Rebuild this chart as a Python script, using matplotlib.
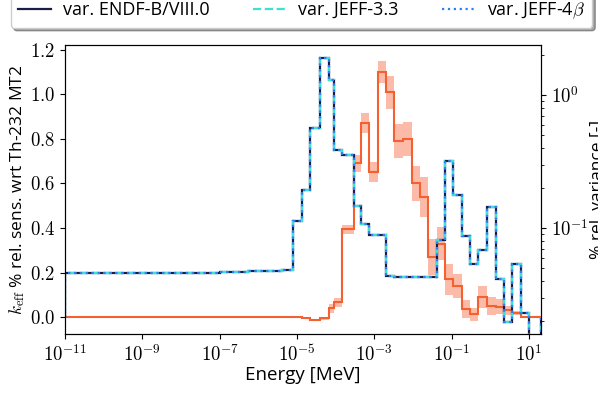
import matplotlib
matplotlib.use("Agg")
import matplotlib.pyplot as plt
import matplotlib.ticker as mticker
import numpy as np

plt.rcParams['font.family'] = ['Open Sans', 'DejaVu Sans']
plt.rcParams['mathtext.fontset'] = 'cm'

# group boundaries [MeV]
edges = [1e-11, 1e-7, 5.4e-7, 4.1e-6, 8e-6, 1.35e-5, 2.2e-5, 3.9e-5, 6.8e-5,
         9.1e-5, 1.45e-4, 2.95e-4, 4.5e-4, 7.2e-4, 1.24e-3, 2.0e-3, 3.24e-3,
         5.5e-3, 9.3e-3, 1.52e-2, 2.46e-2, 4.2e-2, 6.8e-2, 0.107, 0.186, 0.295,
         0.48, 0.81, 1.41, 2.24, 3.6, 6.2, 10.0, 20.0]

# sensitivity profile (same for the three libraries)
sens_endf = [0.198, 0.203, 0.208, 0.212, 0.43, 0.57, 0.85, 1.165, 1.065, 0.75,
             0.73, 0.50, 0.42, 0.37, 0.37, 0.183, 0.182, 0.18, 0.178, 0.178,
             0.18, 0.345, 0.70, 0.55, 0.365, 0.24, 0.30, 0.495, 0.17, -0.02,
             0.24, 0.017, -0.2]
sens_jeff33 = list(sens_endf)
sens_jeff4 = list(sens_endf)

# relative variance and its uncertainty band
variance = [0.0, 0.0, 0.0, 0.0, 0.001, -0.005, -0.013, -0.006, 0.04, 0.067,
            0.395, 0.69, 0.87, 0.65, 1.10, 1.01, 0.79, 0.80, 0.60, 0.54,
            0.27, 0.33, 0.17, 0.14, 0.036, 0.013, 0.09, 0.05, 0.047, 0.03,
            0.018, 0.0, 0.0]
var_err = [0.003, 0.003, 0.003, 0.003, 0.004, 0.005, 0.005, 0.005, 0.02, 0.02,
           0.02, 0.04, 0.045, 0.045, 0.05, 0.075, 0.075, 0.075, 0.08, 0.09,
           0.08, 0.075, 0.07, 0.055, 0.04, 0.03, 0.05, 0.04, 0.035, 0.02,
           0.01, 0.005, 0.005]

edges = np.array(edges)
variance = np.array(variance)
var_err = np.array(var_err)

fig = plt.figure(figsize=(5.98, 3.94), dpi=100)
ax = fig.add_axes([65/598, 1-334/394, 476/598, 289/394])

ax.stairs(variance + var_err, edges, baseline=variance - var_err, fill=True,
          color='#fbbba8', lw=0)
ax.stairs(variance, edges, color='#f4602f', lw=1.5)

l1 = ax.stairs(sens_endf, edges, color='#1c1c4a', lw=1.6, label='var. ENDF-B/VIII.0')
l2 = ax.stairs(sens_jeff33, edges, color='#3fe0d0', lw=1.6, ls='--', label='var. JEFF-3.3')
l3 = ax.stairs(sens_jeff4, edges, color='#2a7fff', lw=1.6, ls=':', label=r'var. JEFF-4$\beta$')

logfmt = mticker.FuncFormatter(lambda v, p: '$10^{%d}$' % round(np.log10(v)))

ax.set_xscale('log')
ax.set_xlim(1e-11, 10**1.31)
ax.set_ylim(-0.076, 1.222)
ax.set_xticks([1e-11, 1e-9, 1e-7, 1e-5, 1e-3, 1e-1, 1e1])
ax.xaxis.set_major_formatter(logfmt)
ax.xaxis.set_minor_locator(mticker.NullLocator())
ax.set_yticks([0.0, 0.2, 0.4, 0.6, 0.8, 1.0, 1.2])
ax.yaxis.set_major_formatter(mticker.FuncFormatter(lambda v, p: f'${v:.1f}$'))
ax.tick_params(labelsize=13.5)
ax.set_xlabel('Energy [MeV]', fontsize=13.5, labelpad=1)
ax.set_ylabel(r'$k_{\rm eff}$ % rel. sens. wrt Th-232 MT2', fontsize=12.5, labelpad=2)

ax2 = ax.twinx()
ax2.set_yscale('log')
ax2.set_ylim(10**-1.797, 10**0.376)
ax2.set_yticks([0.1, 1.0])
ax2.yaxis.set_major_formatter(logfmt)
ax2.yaxis.set_minor_formatter(mticker.NullFormatter())
ax2.tick_params(labelsize=13.5)
ax2.set_ylabel(r'% rel. variance [-]', fontsize=12.5, labelpad=1)

fig.legend(handles=[l1, l2, l3], loc='lower left', ncol=3,
           bbox_to_anchor=(0.003, 1-37/394), fontsize=13,
           fancybox=True, shadow=True, frameon=True, handlelength=1.8,
           handletextpad=0.7, columnspacing=2.4)

fig.savefig('out.png', dpi=100)
